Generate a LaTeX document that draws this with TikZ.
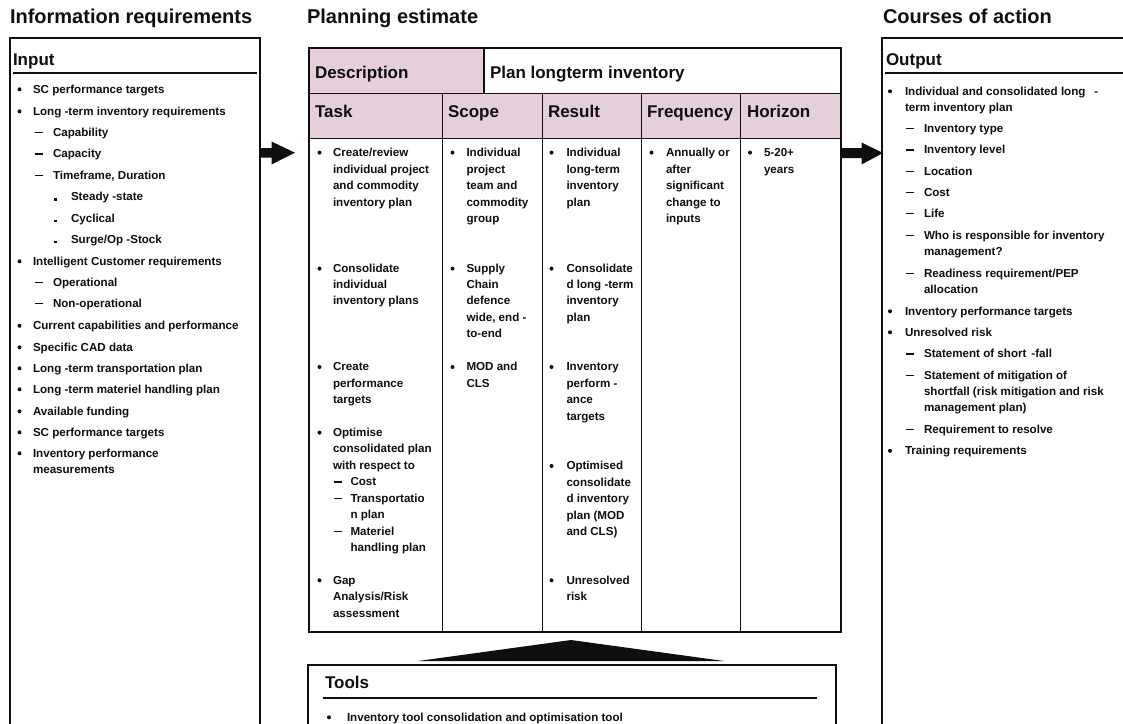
\documentclass[tikz,border=0pt]{standalone}
\usepackage{fontspec}
\setmainfont{Liberation Sans}
\definecolor{pinkc}{RGB}{230,206,218}
\definecolor{ink}{RGB}{15,15,15}
\tikzset{
 txt/.style={anchor=base west, inner sep=0pt, outer sep=0pt, font=\fontsize{11.6}{13}\selectfont\bfseries, text=ink},
 ttl/.style={anchor=base west, inner sep=0pt, outer sep=0pt, font=\fontsize{20}{22}\selectfont\bfseries, text=ink},
 hdr/.style={anchor=base west, inner sep=0pt, outer sep=0pt, font=\fontsize{17}{20}\selectfont\bfseries, text=ink},
 frame/.style={line width=2pt, draw=ink},
 gridline/.style={line width=1.8pt, draw=ink},
 rulel/.style={line width=1.4pt, draw=ink},
 blockarrow/.style={fill=ink, draw=none},
}
\newcommand\mytxt[4]{\node[txt] (#1) at (#2,{#3+4}) {#4};}
\newcommand\mybul[2]{\fill[ink] (#1,{#2+0.3}) circle (2pt);}
\newcommand\mydash[2]{\draw[ink, line width=1.3pt] (#1,{#2+0.5}) -- ({#1+7.5},{#2+0.5});}
\newcommand\mydot[2]{\fill[ink] (#1,{#2+1.8}) rectangle ({#1+2.6},{#2+4.3});}
\begin{document}
\begin{tikzpicture}[x=1pt,y=-1pt]
\useasboundingbox (0,0) rectangle (1123,723);
\fill[white] (0,0) rectangle (1123,723);

% titles
\node[ttl] (t1) at (10,23) {Information requirements};
\node[ttl] (t2) at (307,23) {Planning estimate};
\node[ttl] (t3) at (883,23) {Courses of action};

% ---------------- left box
\coordinate (lbtl) at (10,38);
\coordinate (lbbr) at (260,740);
\draw[frame] (lbtl) rectangle (lbbr);
\node[hdr] (inp) at (13,65) {Input};
\draw[rulel] (13,73) -- (257,73);
\mybul{19.5}{89}    \mytxt{i1}{33}{89}{SC performance targets}
\mybul{19.5}{111}   \mytxt{i2}{33}{111}{Long -term inventory requirements}
\mydash{35}{132}    \mytxt{i3}{53}{132}{Capability}
\mydash{35}{153.5}  \mytxt{i4}{53}{153.5}{Capacity}
\mydash{35}{175}    \mytxt{i5}{53}{175}{Timeframe, Duration}
\mydot{54}{196.5}   \mytxt{i6}{71}{196.5}{Steady -state}
\mydot{54}{218}     \mytxt{i7}{71}{218}{Cyclical}
\mydot{54}{239}     \mytxt{i8}{71}{239}{Surge/Op -Stock}
\mybul{19.5}{261}   \mytxt{i9}{33}{261}{Intelligent Customer requirements}
\mydash{35}{282}    \mytxt{i10}{53}{282}{Operational}
\mydash{35}{303}    \mytxt{i11}{53}{303}{Non-operational}
\mybul{19.5}{325.5} \mytxt{i12}{33}{325.5}{Current capabilities and performance}
\mybul{19.5}{347}   \mytxt{i13}{33}{347}{Specific CAD data}
\mybul{19.5}{368}   \mytxt{i14}{33}{368}{Long -term transportation plan}
\mybul{19.5}{389}   \mytxt{i15}{33}{389}{Long -term materiel handling plan}
\mybul{19.5}{411}   \mytxt{i16}{33}{411}{Available funding}
\mybul{19.5}{432}   \mytxt{i17}{33}{432}{SC performance targets}
\mybul{19.5}{453}   \mytxt{i18}{33}{453}{Inventory performance}
                    \mytxt{i18b}{33}{469.5}{measurements}

% ---------------- table
\fill[pinkc] (309,48) rectangle (484,93.5);
\fill[pinkc] (309,93.5) rectangle (841,138.5);
\coordinate (ttl) at (309,48);
\coordinate (tbr) at (841,632);
\draw[gridline] (ttl) rectangle (tbr);
\draw[gridline] (309,93.5) -- (841,93.5);
\draw[gridline] (309,138.5) -- (841,138.5);
\draw[gridline] (484,48) -- (484,93.5);
\foreach \xx in {442.5,542.5,641.5,740.5}{\draw[gridline] (\xx,93.5) -- (\xx,632);}
\node[hdr] (desc) at (315,78) {Description};
\node[hdr] (plan) at (490,78) {Plan longterm inventory};
\node[hdr] (htask) at (315,117) {Task};
\node[hdr] (hscope) at (448,117) {Scope};
\node[hdr] (hres) at (548,117) {Result};
\node[hdr] (hfreq) at (647,117) {Frequency};
\node[hdr] (hhor) at (747,117) {Horizon};

% Task column
\mybul{319.5}{152.3} \mytxt{k1}{333}{152.3}{Create/review}
\mytxt{k2}{333}{169}{individual project}
\mytxt{k3}{333}{185.5}{and commodity}
\mytxt{k4}{333}{202}{inventory plan}
\mybul{319.5}{268.3} \mytxt{k5}{333}{268.3}{Consolidate}
\mytxt{k6}{333}{284.5}{individual}
\mytxt{k7}{333}{300.7}{inventory plans}
\mybul{319.5}{366.7} \mytxt{k8}{333}{366.7}{Create}
\mytxt{k9}{333}{383}{performance}
\mytxt{k10}{333}{399.5}{targets}
\mybul{319.5}{432.3} \mytxt{k11}{333}{432.3}{Optimise}
\mytxt{k12}{333}{448.7}{consolidated plan}
\mytxt{k13}{333}{465}{with respect to}
\mydash{334}{481.5} \mytxt{k14}{350.5}{481.5}{Cost}
\mydash{334}{498}   \mytxt{k15}{350.5}{498}{Transportatio}
\mytxt{k16}{350.5}{514.5}{n plan}
\mydash{334}{531}   \mytxt{k17}{350.5}{531}{Materiel}
\mytxt{k18}{350.5}{547.5}{handling plan}
\mybul{319.5}{580} \mytxt{k19}{333}{580}{Gap}
\mytxt{k20}{333}{596.5}{Analysis/Risk}
\mytxt{k21}{333}{613}{assessment}

% Scope column
\mybul{452.5}{152.3} \mytxt{s1}{466.5}{152.3}{Individual}
\mytxt{s2}{466.5}{169}{project}
\mytxt{s3}{466.5}{185.5}{team and}
\mytxt{s4}{466.5}{202}{commodity}
\mytxt{s5}{466.5}{218.5}{group}
\mybul{452.5}{268.3} \mytxt{s6}{466.5}{268.3}{Supply}
\mytxt{s7}{466.5}{284.5}{Chain}
\mytxt{s8}{466.5}{300.7}{defence}
\mytxt{s9}{466.5}{317}{wide, end -}
\mytxt{s10}{466.5}{333.5}{to-end}
\mybul{452.5}{366.7} \mytxt{s11}{466.5}{366.7}{MOD and}
\mytxt{s12}{466.5}{383}{CLS}

% Result column
\mybul{551.5}{152.3} \mytxt{r1}{566.5}{152.3}{Individual}
\mytxt{r2}{566.5}{169}{long-term}
\mytxt{r3}{566.5}{185.5}{inventory}
\mytxt{r4}{566.5}{202}{plan}
\mybul{551.5}{268.3} \mytxt{r5}{566.5}{268.3}{Consolidate}
\mytxt{r6}{566.5}{284.5}{d long -term}
\mytxt{r7}{566.5}{300.7}{inventory}
\mytxt{r8}{566.5}{317}{plan}
\mybul{551.5}{366.7} \mytxt{r9}{566.5}{366.7}{Inventory}
\mytxt{r10}{566.5}{383}{perform -}
\mytxt{r11}{566.5}{399.5}{ance}
\mytxt{r12}{566.5}{416}{targets}
\mybul{551.5}{465.7} \mytxt{r13}{566.5}{465.7}{Optimised}
\mytxt{r14}{566.5}{482}{consolidate}
\mytxt{r15}{566.5}{498.5}{d inventory}
\mytxt{r16}{566.5}{515}{plan (MOD}
\mytxt{r17}{566.5}{531.5}{and CLS)}
\mybul{551.5}{580} \mytxt{r18}{566.5}{580}{Unresolved}
\mytxt{r19}{566.5}{596.5}{risk}

% Frequency column
\mybul{651.5}{152.3} \mytxt{f1}{666}{152.3}{Annually or}
\mytxt{f2}{666}{169}{after}
\mytxt{f3}{666}{185.5}{significant}
\mytxt{f4}{666}{202}{change to}
\mytxt{f5}{666}{218.5}{inputs}

% Horizon column
\mybul{750}{152.3} \mytxt{h1}{764}{152.3}{5-20+}
\mytxt{h2}{764}{169}{years}

% ---------------- right box
\coordinate (rbtl) at (882,38);
\coordinate (rbbr) at (1140,740);
\draw[frame] (rbtl) rectangle (rbbr);
\node[hdr] (outp) at (886,65) {Output};
\draw[rulel] (885,73) -- (1130,73);
\mybul{890}{91}    \mytxt{o1}{905}{91}{Individual and consolidated long\hspace{9pt}-}
\mytxt{o1b}{905}{107}{term inventory plan}
\mydash{906}{128}   \mytxt{o2}{924}{128}{Inventory type}
\mydash{906}{149.5} \mytxt{o3}{924}{149.5}{Inventory level}
\mydash{906}{171}   \mytxt{o4}{924}{171}{Location}
\mydash{906}{192}   \mytxt{o5}{924}{192}{Cost}
\mydash{906}{213}   \mytxt{o6}{924}{213}{Life}
\mydash{906}{235}   \mytxt{o7}{924}{235}{Who is responsible for inventory}
\mytxt{o7b}{924}{251.5}{management?}
\mydash{906}{273}   \mytxt{o8}{924}{273}{Readiness requirement/PEP}
\mytxt{o8b}{924}{289.5}{allocation}
\mybul{890}{311}   \mytxt{o9}{905}{311}{Inventory performance targets}
\mybul{890}{332}   \mytxt{o10}{905}{332}{Unresolved risk}
\mydash{906}{353.5} \mytxt{o11}{924}{353.5}{Statement of short\hspace{5pt}-fall}
\mydash{906}{375}   \mytxt{o12}{924}{375}{Statement of mitigation of}
\mytxt{o12b}{924}{391}{shortfall (risk mitigation and risk}
\mytxt{o12c}{924}{407.5}{management plan)}
\mydash{906}{429}   \mytxt{o13}{924}{429}{Requirement to resolve}
\mybul{890}{450.5} \mytxt{o14}{905}{450.5}{Training requirements}

% ---------------- tools box
\coordinate (tbtl) at (307.5,665);
\coordinate (tbbr) at (836,740);
\draw[frame] (tbtl) rectangle (tbbr);
\node[hdr] (tools) at (325,688) {Tools};
\draw[rulel] (323,698) -- (817,698);
\mybul{329}{717} \mytxt{tl1}{347}{717}{Inventory tool consolidation and optimisation tool}

% ---------------- block arrows
\coordinate (la0) at (260,152.7);
\coordinate (la1) at (295,152.7);
\fill[blockarrow] (260,148) -- (271.5,148) -- (271.5,141.5) -- (la1) -- (271.5,164.5) -- (271.5,157.5) -- (260,157.5) -- cycle;
\coordinate (ra0) at (841,153);
\coordinate (ra1) at (883,153);
\fill[blockarrow] (841,148) -- (861.5,148) -- (861.5,142.5) -- (ra1) -- (861.5,164.5) -- (861.5,158) -- (841,158) -- cycle;
\coordinate (apex) at (571,640);
\fill[blockarrow] (apex) -- (724,661) -- (418,661) -- cycle;
\end{tikzpicture}
\end{document}
